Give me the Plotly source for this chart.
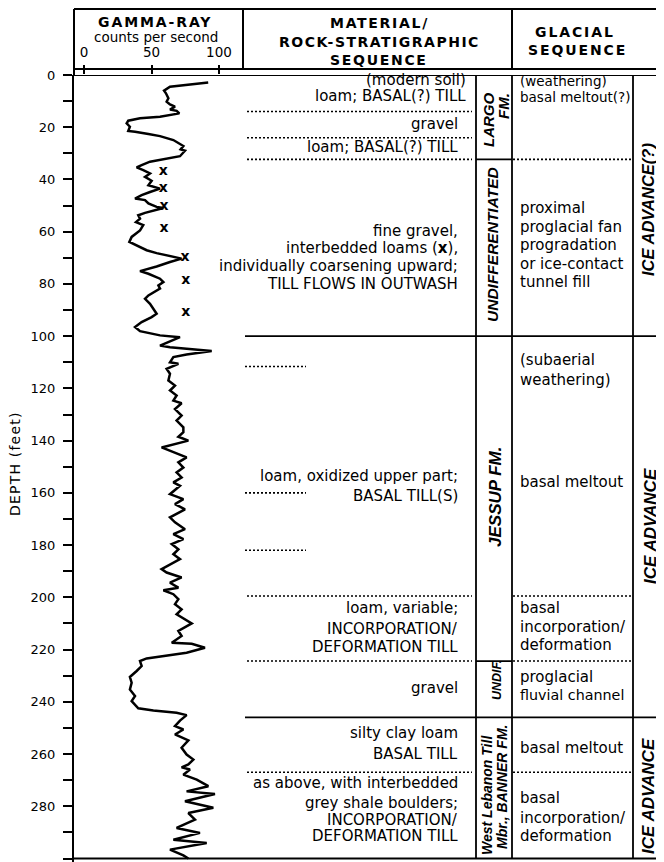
import plotly.graph_objects as go

# page body has an 8px margin: the figure starts at (8, 8) and reaches the window's right/bottom edges
OFF = 8
FW, FH = 664 - OFF, 862 - OFF

# ---------------- data ----------------
gamma_depth = [2.9, 4.5, 6.0, 7.0, 8.9, 10.2, 11.3, 12.1, 13.2, 13.7, 14.7, 16.0, 16.6, 17.5, 18.5, 19.8,
               21.4, 21.7, 22.6, 23.4, 24.9, 26.2, 27.2, 28.5, 29.0, 31.1, 32.0, 33.2, 34.5, 35.4, 36.4,
               37.7, 39.0, 40.5, 42.2, 42.8, 43.5, 44.8, 46.0, 47.3, 47.9, 49.2, 50.5, 50.9, 51.8, 52.8,
               53.7, 55.0, 56.3, 57.5, 59.5, 60.7, 62.0, 63.9, 65.2, 67.1, 68.2, 69.0, 69.7, 70.3, 71.6,
               73.3, 75.1, 76.1, 78.0, 79.3, 80.6, 81.8, 84.4, 85.7, 87.6, 91.4, 92.7, 94.6, 96.5, 98.1,
               99.7, 100.4, 103.6, 104.2, 105.7, 107.0, 108.0, 110.0, 110.6, 112.5, 114.4, 117.0, 118.9,
               120.8, 122.7, 124.7, 125.7, 127.9, 130.4, 132.3, 134.9, 136.8, 138.5, 140.0, 142.6, 144.5,
               146.4, 148.3, 150.3, 152.2, 154.1, 156.0, 157.3, 160.5, 162.4, 164.3, 166.3, 169.4, 171.3,
               173.9, 175.8, 177.7, 179.6, 181.6, 183.5, 185.4, 189.2, 190.5, 192.4, 194.4, 196.3, 197.3,
               198.8, 200.7, 202.6, 204.6, 206.5, 210.0, 212.9, 214.8, 217.4, 217.8, 219.3, 221.2, 223.4,
               224.4, 226.3, 228.2, 230.5, 232.7, 235.3, 237.8, 239.7, 242.5, 243.3, 244.2, 245.1, 247.2,
               249.3, 250.6, 252.5, 254.8, 257.6, 260.2, 262.1, 264.0, 265.1, 265.9, 267.9, 269.8, 272.3,
               274.3, 275.3, 278.1, 280.6, 282.6, 285.1, 288.3, 290.2, 292.8, 294.1, 296.6, 298.8, 300.0]
gamma_cps = [92.0, 63.7, 59.3, 60.7, 62.5, 61.2, 63.7, 67.4, 63.7, 68.6, 70.6, 56.3, 41.5, 32.8, 31.6, 34.0,
             32.8, 37.8, 47.7, 56.3, 66.2, 69.9, 73.6, 71.6, 74.8, 71.1, 61.2, 48.9, 42.7, 39.0, 43.9,
             48.9, 45.2, 50.1, 47.7, 52.6, 56.3, 48.9, 42.7, 37.8, 45.2, 47.7, 53.8, 58.8, 51.4, 45.2,
             40.2, 41.5, 38.5, 43.9, 41.5, 38.5, 35.3, 33.6, 39.0, 46.4, 53.8, 61.2, 68.6, 72.3, 63.7,
             53.8, 41.5, 47.7, 56.3, 58.8, 55.1, 56.3, 47.7, 45.2, 48.9, 53.8, 50.1, 42.7, 37.8, 41.5,
             56.3, 71.1, 56.3, 63.7, 94.6, 76.0, 66.2, 63.7, 69.9, 61.2, 63.7, 62.5, 67.4,
             63.7, 68.6, 66.2, 72.3, 67.4, 72.3, 68.6, 73.6, 73.6, 69.9, 77.3, 57.5, 67.4,
             76.0, 69.9, 73.6, 68.6, 72.3, 66.2, 71.1, 63.7, 73.6, 67.4, 74.8, 63.7, 67.4,
             74.8, 66.2, 73.6, 65.0, 69.9, 66.2, 71.1, 57.5, 61.2, 72.3, 63.7, 69.9, 58.8,
             66.2, 69.9, 67.4, 72.3, 68.6, 79.8, 69.9, 72.3, 65.0, 79.8, 89.6, 76.0, 46.4,
             41.5, 42.7, 39.0, 34.0, 35.3, 34.0, 37.8, 35.3, 40.2, 51.4, 68.6, 76.0, 71.1,
             67.4, 73.6, 67.4, 77.3, 72.3, 76.0, 81.0, 77.3, 72.3, 78.5, 73.6, 83.5, 92.1,
             76.0, 97.0, 74.8, 95.8, 77.3, 82.2, 68.6, 85.9, 66.2, 90.9, 63.7, 73.6, 77.3]

loam_x_cps = [58.8, 58.8, 59.3, 59.3, 74.8, 75.3, 75.3]
loam_x_depth = [37.1, 43.5, 50.5, 58.8, 69.9, 78.6, 90.8]

depth_ticks = list(range(0, 301, 10))
depth_labels = [str(d) if d % 20 == 0 else "" for d in depth_ticks]
gamma_ticks = [0, 50, 100]

# unit boundaries (feet)
solid_bounds = [100, 246]
formation_bounds = [32.3, 224.4]
dotted_material_only = [14, 24]
dotted_both = [32.3, 199.5, 224.4, 267]
dotted_short = [111.6, 160, 182]

material_lines = [("(modern soil)", 79.5, 467), ("loam; BASAL(?) TILL", 96, 467),
                  ("gravel", 124, 459), ("loam; BASAL(?) TILL", 147, 459),
                  ("fine gravel,", 231, 459), ("interbedded loams (<b>x</b>),", 248, 459),
                  ("individually coarsening upward;", 266, 459), ("TILL FLOWS IN OUTWASH", 284, 459),
                  ("loam, oxidized upper part;", 476, 459), ("BASAL TILL(S)", 496, 459),
                  ("loam, variable;", 608, 459), ("INCORPORATION/", 629, 459), ("DEFORMATION TILL", 647, 459),
                  ("gravel", 688, 459),
                  ("silty clay loam", 733, 459), ("BASAL TILL", 754, 459),
                  ("as above, with interbedded", 783, 459), ("grey shale boulders;", 803, 459),
                  ("INCORPORATION/", 820, 459), ("DEFORMATION TILL", 836, 459)]

glacial_lines = [("(weathering)", 81, 13.5), ("basal meltout(?)", 97, 13.5),
                 ("proximal", 208, 15), ("proglacial fan", 227, 15), ("progradation", 245, 15),
                 ("or ice-contact", 264, 15), ("tunnel fill", 282, 15),
                 ("(subaerial", 360, 15), ("weathering)", 380, 15), ("basal meltout", 482, 15),
                 ("basal", 608, 15), ("incorporation/", 627, 15), ("deformation", 645, 15),
                 ("proglacial", 677, 15), ("fluvial channel", 695, 14.3),
                 ("basal meltout", 748, 15),
                 ("basal", 798, 15), ("incorporation/", 818, 15), ("deformation", 836, 15)]

# rotated labels: text, x px, y px, size
rotated_labels = [("LARGO", 488, 120, 15), ("FM.", 503, 106, 15),
                  ("UNDIFFERENTIATED", 493, 245, 15.5),
                  ("JESSUP FM.", 495, 497, 17),
                  ("UNDIF.", 497, 680, 12.5),
                  ("West Lebanon Till", 487, 795, 14), ("Mbr., BANNER FM.", 502, 787, 14),
                  ("ICE ADVANCE(?)", 648, 210, 16.5),
                  ("ICE ADVANCE", 650, 526, 17),
                  ("ICE ADVANCE", 648, 796, 17)]

# ---------------- helpers (window-pixel -> paper) ----------------
def X(p):
    return (p - OFF) / FW

def Y(p):
    return 1 - (p - OFF) / FH

Y_TOP, Y_BOT = 75, 858.5
PX_PER_FT = (Y_BOT - Y_TOP) / 300
DEPTH_MAX_VISIBLE = (FH + OFF - Y_TOP) / PX_PER_FT
X_L, X_R = 74, 243
PX_PER_CPS = 1.35
X0_PX = 84
RIGHT = 664

fig = go.Figure()
fig.add_trace(go.Scatter(x=gamma_cps, y=gamma_depth, mode="lines",
                         line=dict(color="black", width=2.5), hoverinfo="skip"))
fig.add_trace(go.Scatter(x=loam_x_cps, y=loam_x_depth, mode="text", text=["x"] * len(loam_x_cps),
                         textfont=dict(family="DejaVu Sans", size=14, color="black", weight="bold"),
                         textposition="middle center", hoverinfo="skip"))

shapes = []
LC = "black"

def hl(depth, x0, x1, dash=None, w=1.8):
    line = dict(color=LC, width=w)
    if dash:
        line["dash"] = dash
    shapes.append(dict(type="line", xref="paper", yref="y", x0=X(x0), x1=X(x1),
                       y0=depth, y1=depth, line=line))

def vl_depth(xp, d0, d1, w=1.8):
    shapes.append(dict(type="line", xref="paper", yref="y", x0=X(xp), x1=X(xp),
                       y0=d0, y1=d1, line=dict(color=LC, width=w)))

def seg_px(x0, y0, x1, y1, w=2):
    shapes.append(dict(type="line", xref="paper", yref="paper", x0=X(x0), x1=X(x1),
                       y0=Y(y0), y1=Y(y1), line=dict(color=LC, width=w)))

# header frame
seg_px(74, 9, RIGHT, 9)
seg_px(74, 69, RIGHT, 69)
seg_px(74, 9, 74, 75)
seg_px(243, 9, 243, 69)
seg_px(512, 9, 512, 69)
hl(0, 74, RIGHT, w=2)
hl(300, 74, RIGHT, w=2)

# column lines
for xp in (476, 512, 633):
    vl_depth(xp, 0, 300)

for d in solid_bounds:
    hl(d, 245, RIGHT)
for d in formation_bounds:
    hl(d, 476, 512)
DOT = "2px,2px"
for d in dotted_material_only:
    hl(d, 247, 472, dash=DOT, w=1.6)
for d in dotted_both:
    hl(d, 247, 472, dash=DOT, w=1.6)
    hl(d, 513, 632, dash=DOT, w=1.6)
for d in dotted_short:
    hl(d, 245, 306, dash=DOT, w=1.6)

ann = []
BODY = dict(family="DejaVu Sans", size=15, color="black")

def txt(text, xp, yp, xanchor="center", font=None, angle=0):
    ann.append(dict(text=text, x=X(xp), y=Y(yp), xref="paper", yref="paper", showarrow=False,
                    xanchor=xanchor, yanchor="middle", font=font or BODY, textangle=angle,
                    borderpad=0))

HB = dict(family="DejaVu Sans", size=14, color="black", weight="bold")
def ls(t, s):
    return '<span style="letter-spacing:%spx">%s</span>' % (s, t)

txt(ls("GAMMA-RAY", 1.9), 155, 22, font=HB)
txt("counts per second", 156, 37, font=dict(family="DejaVu Sans", size=13.5, color="black"))
txt(ls("MATERIAL/", 1.7), 379, 23, font=HB)
txt(ls("ROCK-STRATIGRAPHIC", 1.5), 379, 42, font=HB)
txt(ls("SEQUENCE", 1.7), 379, 60, font=HB)
txt(ls("GLACIAL", 1.9), 575, 32, font=HB)
txt(ls("SEQUENCE", 1.9), 577, 50, font=HB)
txt(ls("DEPTH (feet)", 1.2), 15, 464, font=dict(family="DejaVu Sans", size=14, color="black"), angle=-90)

for t, yp, xr in material_lines:
    txt(t, xr, yp, xanchor="right")
for t, yp, s in glacial_lines:
    txt(t, 519, yp, xanchor="left", font=dict(family="DejaVu Sans", size=s, color="black"))
for t, xp, yp, s in rotated_labels:
    txt(t, xp, yp, font=dict(family="Liberation Sans", size=s, color="black", weight="bold", style="italic"),
        angle=-90)

x_range = [(X_L - X0_PX) / PX_PER_CPS, (X_R - X0_PX) / PX_PER_CPS]

fig.update_layout(
    width=FW, height=FH, autosize=False,
    margin=dict(l=0, r=0, t=0, b=0, pad=0, autoexpand=False),
    paper_bgcolor="white", plot_bgcolor="white", showlegend=False,
    shapes=shapes, annotations=ann,
    xaxis=dict(domain=[X(X_L), X(X_R)], range=x_range, side="top", tickvals=gamma_ticks,
               ticks="outside", ticklen=9, tickwidth=1.5, tickcolor="black", automargin=False,
               showline=False, showgrid=False, zeroline=False, ticklabelstandoff=3,
               tickfont=dict(family="DejaVu Sans", size=13.5, color="black")),
    yaxis=dict(domain=[0, Y(Y_TOP)], range=[DEPTH_MAX_VISIBLE, 0], tickvals=depth_ticks,
               ticktext=depth_labels, automargin=False,
               ticks="outside", ticklen=9, tickwidth=2, tickcolor="black",
               showline=True, linewidth=2, linecolor="black", showgrid=False, zeroline=False,
               ticklabelstandoff=5, tickfont=dict(family="DejaVu Sans", size=13, color="black")),
)

fig.write_html("out.html")
